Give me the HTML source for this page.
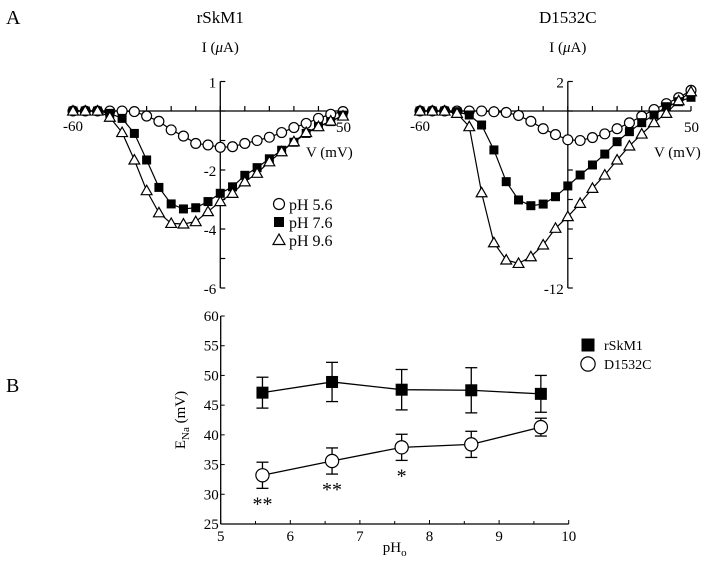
<!DOCTYPE html>
<html><head><meta charset="utf-8"><style>
body{margin:0;background:#fff}
svg{display:block;font-family:"Liberation Serif",serif}
</style></head><body>
<svg id="fig" width="720" height="565" viewBox="0 0 720 565">
<text x="6" y="24" font-size="20">A</text>
<text x="6" y="392" font-size="20">B</text>
<g id="pa"></g><g id="pb"></g>
</svg>
<script>
const NS="http://www.w3.org/2000/svg";
function mk(p,t,a,name){const e=document.createElementNS(NS,t);for(const k in a)e.setAttribute(k,a[k]);


p.appendChild(e);return e;}
// ---- Panel A data ----
const voltages=[-60,-55,-50,-45,-40,-35,-30,-25,-20,-15,-10,-5,0,5,10,15,20,25,30,35,40,45,50];
const rsk_ph56=[0,0,0,0,0,-0.02,-0.17,-0.35,-0.64,-0.85,-1.1,-1.15,-1.23,-1.21,-1.1,-1.0,-0.89,-0.73,-0.56,-0.42,-0.25,-0.11,-0.02];
const rsk_ph76=[0,0,0,-0.08,-0.25,-0.76,-1.66,-2.59,-3.15,-3.32,-3.28,-3.07,-2.79,-2.57,-2.18,-1.92,-1.62,-1.33,-1.06,-0.76,-0.53,-0.36,-0.14];
const rsk_ph96=[0,0,0,-0.21,-0.73,-1.66,-2.7,-3.45,-3.81,-3.83,-3.75,-3.41,-3.07,-2.79,-2.4,-2.11,-1.72,-1.38,-1.04,-0.73,-0.53,-0.34,-0.17];
const d15_ph56=[0,0,0,0,0,0,-0.05,-0.1,-0.3,-0.7,-1.2,-1.6,-1.95,-2.0,-1.8,-1.55,-1.2,-0.8,-0.35,0.1,0.5,0.9,1.4];
const d15_ph76=[0,0,0,-0.05,-0.27,-0.95,-2.64,-4.79,-6.03,-6.42,-6.31,-5.81,-5.08,-4.34,-3.66,-2.92,-2.08,-1.4,-0.79,-0.27,0.29,0.63,0.93];
const d15_ph96=[0,0,0,-0.16,-1.06,-5.54,-8.93,-10.1,-10.33,-9.88,-9.08,-7.95,-7.16,-6.26,-5.24,-4.34,-3.32,-2.37,-1.56,-0.79,-0.16,0.7,1.31];
const rskYTicks=[1,-2,-4,-6];
const d15YTicks=[2,-12];
// ---- Panel B data ----
const phValues=[5.6,6.6,7.6,8.6,9.6];
const ena_rsk=[47.1,48.9,47.6,47.5,46.9];
const err_rsk=[2.6,3.3,3.4,3.8,3.1];
const ena_d15=[33.2,35.6,37.9,38.4,41.3];
const err_d15=[2.2,2.2,2.2,2.2,1.5];
const stars=["**","**","*","",""];
const bXTicks=[5,6,7,8,9,10];
const bYTicks=[25,30,35,40,45,50,55,60];

function marker(g,type,x,y,s,name){
 if(type==='c')mk(g,'circle',{cx:x,cy:y,r:s*0.55,fill:'#fff',stroke:'#000','stroke-width':1.2},name);
 else if(type==='s')mk(g,'rect',{x:x-s/2,y:y-s/2,width:s,height:s,fill:'#000'},name);
 else mk(g,'polygon',{points:`${x},${y-s*0.6} ${x-s*0.6},${y+s*0.45} ${x+s*0.6},${y+s*0.45}`,fill:'#fff',stroke:'#000','stroke-width':1.2},name);
}
function ivPanel(g,o){
 const X=v=>o.x0+(v+60)*(o.x1-o.x0)/110, Y=i=>o.yz-i*o.k;
 const ox=X(0);
 mk(g,'line',{x1:X(-60),y1:Y(0),x2:X(50),y2:Y(0),stroke:'#000','stroke-width':1.3},o.p+'-x-axis');
 mk(g,'line',{x1:ox,y1:Y(o.ymax),x2:ox,y2:Y(o.ymin),stroke:'#000','stroke-width':1.3},o.p+'-y-axis');
 for(let v=-60;v<=50;v+=10)mk(g,'line',{x1:X(v),y1:Y(0)-5,x2:X(v),y2:Y(0),stroke:'#000','stroke-width':1.2},o.p+'-x-tick');
 for(let i=o.ymax;i>=o.ymin;i-=o.ystep)mk(g,'line',{x1:ox,y1:Y(i),x2:ox+5,y2:Y(i),stroke:'#000','stroke-width':1.2},o.p+'-y-tick');
 o.ticks.forEach(t=>{const e=mk(g,'text',{x:ox-4,y:Y(t)+6,'font-size':15,'text-anchor':'end'},o.p+'-y-tick-label');e.textContent=t;});
 let e=mk(g,'text',{x:X(-60)-10,y:Y(0)+20,'font-size':15},o.p+'-x-label-min');e.textContent='-60';
 e=mk(g,'text',{x:X(50)-7,y:Y(0)+21,'font-size':15},o.p+'-x-label-max');e.textContent='50';
 e=mk(g,'text',{x:X(50)-37,y:Y(0)+46,'font-size':15},o.p+'-x-axis-title');e.textContent='V (mV)';
 e=mk(g,'text',{x:ox,y:52,'font-size':15,'text-anchor':'middle'},o.p+'-y-axis-title');e.innerHTML='I (<tspan font-style="italic">μ</tspan>A)';
 e=mk(g,'text',{x:ox,y:23,'font-size':17,'text-anchor':'middle'},o.p+'-title');e.textContent=o.title;
 o.series.forEach(s=>{
  mk(g,'polyline',{points:voltages.map((v,j)=>X(v)+','+Y(s.d[j])).join(' '),fill:'none',stroke:'#000','stroke-width':1.2},o.p+'-line-'+s.n);
  voltages.forEach((v,j)=>marker(g,s.t,X(v),Y(s.d[j]),9,o.p+'-point-'+s.n));
 });
}
const pa=document.getElementById('pa');
ivPanel(pa,{p:'rskm1',title:'rSkM1',x0:73,x1:343,yz:111,k:29.5,ymax:1,ymin:-6,ystep:1,ticks:rskYTicks,
 series:[{n:'ph56',t:'c',d:rsk_ph56},{n:'ph76',t:'s',d:rsk_ph76},{n:'ph96',t:'t',d:rsk_ph96}]});
ivPanel(pa,{p:'d1532c',title:'D1532C',x0:420,x1:691,yz:111,k:14.75,ymax:2,ymin:-12,ystep:2,ticks:d15YTicks,
 series:[{n:'ph56',t:'c',d:d15_ph56},{n:'ph76',t:'s',d:d15_ph76},{n:'ph96',t:'t',d:d15_ph96}]});
[['c','pH 5.6',204],['s','pH 7.6',222],['t','pH 9.6',240]].forEach((l,i)=>{
 marker(pa,l[0],279,l[2],10,'legend-a-marker');
 const e=mk(pa,'text',{x:289,y:l[2]+6,'font-size':16},'legend-a-entry');e.textContent=l[1];});
// Panel B
const pb=document.getElementById('pb');
const BX=v=>220.7+(v-5)*69.6, BY=v=>316+(60-v)*(208/35);
mk(pb,'line',{x1:BX(5),y1:BY(25),x2:BX(10),y2:BY(25),stroke:'#000','stroke-width':1.3},'b-x-axis');
mk(pb,'line',{x1:BX(5),y1:BY(25),x2:BX(5),y2:BY(60),stroke:'#000','stroke-width':1.3},'b-y-axis');
bXTicks.forEach(t=>{mk(pb,'line',{x1:BX(t),y1:BY(25),x2:BX(t),y2:BY(25)-4,stroke:'#000'},'b-x-tick');
 const e=mk(pb,'text',{x:BX(t),y:BY(25)+17,'font-size':15,'text-anchor':'middle'},'b-x-tick-label');e.textContent=t;});
for(let t=5.5;t<10;t+=1)mk(pb,'line',{x1:BX(t),y1:BY(25),x2:BX(t),y2:BY(25)-3,stroke:'#000'},'b-x-minor-tick');
bYTicks.forEach(t=>{mk(pb,'line',{x1:BX(5),y1:BY(t),x2:BX(5)+4,y2:BY(t),stroke:'#000'},'b-y-tick');
 const e=mk(pb,'text',{x:BX(5)-2,y:BY(t)+5,'font-size':15,'text-anchor':'end'},'b-y-tick-label');e.textContent=t;});
let e=mk(pb,'text',{x:BX(7.5),y:552,'font-size':15,'text-anchor':'middle'},'b-x-axis-title');e.innerHTML='pH<tspan font-size="11" dy="4">o</tspan>';
e=mk(pb,'text',{transform:'translate(185,420) rotate(-90)','font-size':15,'text-anchor':'middle'},'b-y-axis-title');e.innerHTML='E<tspan font-size="11" dy="4">Na</tspan><tspan dy="-4">  (mV)</tspan>';
[[ena_rsk,err_rsk,'s','rskm1'],[ena_d15,err_d15,'c','d1532c']].forEach(s=>{
 mk(pb,'polyline',{points:phValues.map((p,j)=>BX(p)+','+BY(s[0][j])).join(' '),fill:'none',stroke:'#000','stroke-width':1.3},'b-line-'+s[3]);
 phValues.forEach((p,j)=>{const x=BX(p),lo=BY(s[0][j]-s[1][j]),hi=BY(s[0][j]+s[1][j]);
  mk(pb,'line',{x1:x,y1:lo,x2:x,y2:hi,stroke:'#000','stroke-width':1.3},'b-errorbar-'+s[3]);
  mk(pb,'line',{x1:x-6,y1:lo,x2:x+6,y2:lo,stroke:'#000','stroke-width':1.3},'b-errorcap-'+s[3]);
  mk(pb,'line',{x1:x-6,y1:hi,x2:x+6,y2:hi,stroke:'#000','stroke-width':1.3},'b-errorcap-'+s[3]);
  marker(pb,s[2],x,BY(s[0][j]),12,'b-point-'+s[3]);});
});
phValues.forEach((p,j)=>{if(!stars[j])return;const t=mk(pb,'text',{x:BX(p),y:BY(ena_d15[j]-err_d15[j])+22,'font-size':20,'text-anchor':'middle'},'b-significance-mark');t.textContent=stars[j];});
marker(pb,'s',588,345,13,'b-legend-marker-rskm1');
e=mk(pb,'text',{x:604,y:350,'font-size':14},'b-legend-rskm1');e.textContent='rSkM1';
marker(pb,'c',588,364,13,'b-legend-marker-d1532c');
e=mk(pb,'text',{x:604,y:369,'font-size':14},'b-legend-d1532c');e.textContent='D1532C';
</script>
</body></html>
